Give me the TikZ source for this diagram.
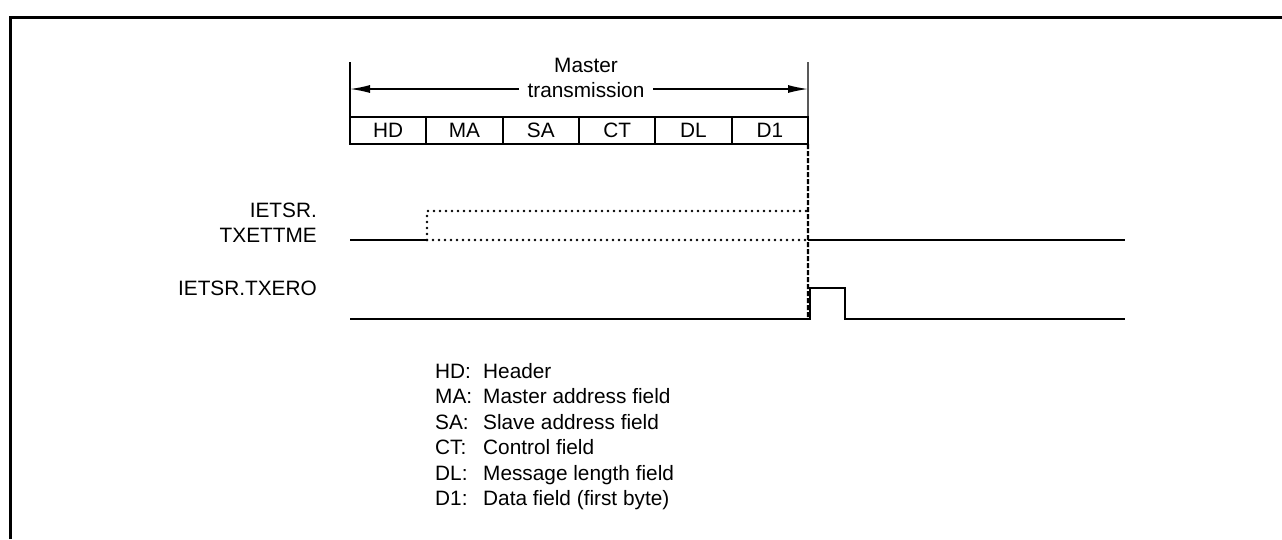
\documentclass[tikz,border=0pt]{standalone}
\usepackage{fontspec}
\setmainfont{Liberation Sans}
\usetikzlibrary{arrows.meta,positioning}
\tikzset{
  cellbox/.style={draw,line width=2.2pt,minimum width=76.33pt,minimum height=27pt,
    inner sep=0pt,outer sep=0pt,anchor=west},
  lbl/.style={inner sep=0pt},
  sigline/.style={line width=2pt},
  dotline/.style={line width=2.8pt,line cap=round,dash pattern=on 0pt off 6pt},
  dashline/.style={line width=2.2pt,dash pattern=on 5pt off 2pt},
  spanline/.style={line width=1.4pt}
}
\begin{document}
\begin{tikzpicture}[x=1pt,y=-1pt,font=\fontsize{20.8}{25.4}\selectfont]
\useasboundingbox (0,0) rectangle (1282,539);
% frame
\draw[line width=3pt] (10.5,539) -- (10.5,17) -- (1282,17);
% message fields
\foreach \f [count=\i] in {HD,MA,SA,CT,DL,D1}
  \node[cellbox] (c\i) at ({350+76.33*(\i-1)},130.5) {\f};
% master transmission span
\coordinate (spanL) at (350,62);
\coordinate (spanR) at (808,62);
\coordinate (arrL) at (350,89);
\coordinate (arrR) at (808,89);
\draw[spanline] (spanL) -- (c1.north west);
\draw[spanline] (spanR) -- (c6.north east);
\draw[spanline,{Latex[length=20pt,width=8pt]}-{Latex[length=20pt,width=8pt]}] (arrL) -- (arrR);
\node[fill=white,inner xsep=9pt,inner ysep=0pt,align=center] (mt) at (586,77.75) {Master\\transmission};
% IETSR.TXETTME
\node[lbl,anchor=base east] (ett1) at (317,217.5) {IETSR.};
\node[lbl,anchor=base east] (ett2) at (317,242.5) {TXETTME};
\draw[sigline] (350,240) -- (427,240);
\draw[dotline] (427,240) -- (427,211) -- (808,211);
\draw[dotline] (427,240) -- (808,240);
\draw[sigline] (808,240) -- (1125,240);
% IETSR.TXERO
\node[lbl,anchor=base east] (ero) at (317,295.5) {IETSR.TXERO};
\draw[sigline] (350,319) -- (810,319) -- (810,288) -- (845,288) -- (845,319) -- (1125,319);
% end of D1
\coordinate (d1end) at (808,319);
\draw[dashline] (c6.south east) -- (d1end);
% legend
\foreach \a/\d [count=\i from 0] in {HD/Header,MA/Master address field,SA/Slave address field,
    CT/Control field,DL/Message length field,D1/Data field (first byte)}
  \node[lbl,anchor=base west] (leg\i) at (435,{378.5+25.4*\i}) {\makebox[48pt][l]{\a:}\d};
\end{tikzpicture}
\end{document}
